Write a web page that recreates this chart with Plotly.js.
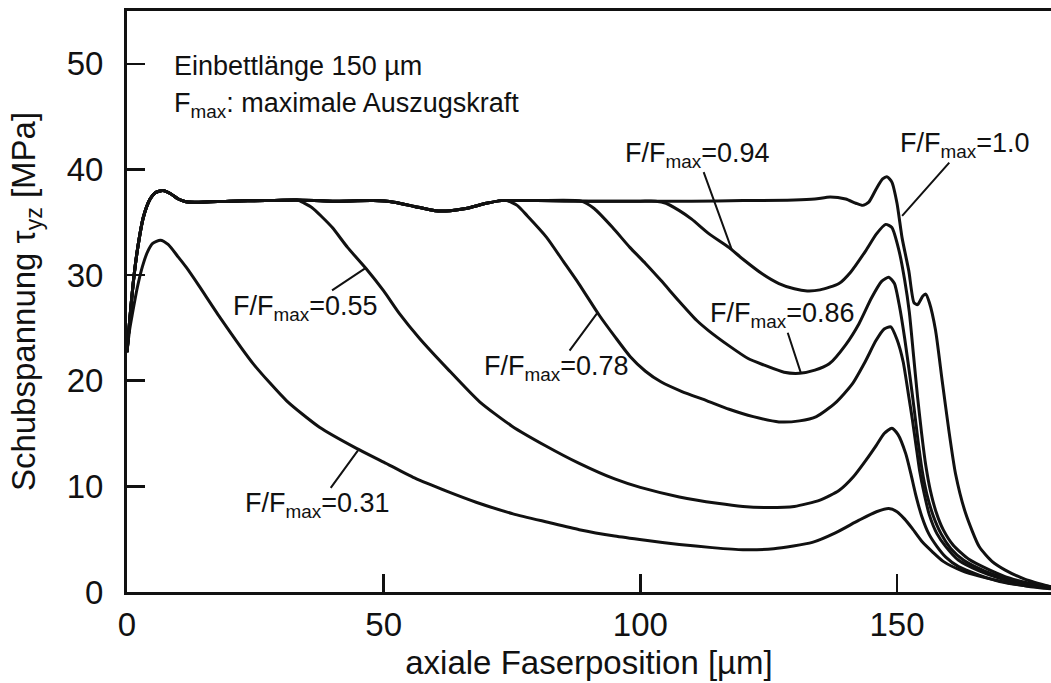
<!DOCTYPE html>
<html>
<head>
<meta charset="utf-8">
<script src="https://cdn.plot.ly/plotly-3.0.1.min.js"></script>
<style>html,body{margin:0;padding:0;background:#fff;}#chart{width:1051px;height:683px;}</style>
</head>
<body>
<div id="chart"></div>
<script>
// Common plateau / envelope (identical to the F/Fmax = 1.0 curve)
const envX = [0, 0.5, 1.2, 2, 3.2, 4.5, 5.5, 7, 8.5, 10, 11.5, 14, 20, 27, 33, 40, 48, 52, 56, 60, 63, 66, 70, 73, 80, 90, 100, 110, 120, 130, 134, 137, 140, 142, 143.3, 144.5, 146, 147.2, 148.1, 149, 150, 151, 152.3, 153.3, 154, 155, 155.6, 156.3, 157.5, 158.8, 160.1, 161.4, 163.4, 166, 168.5, 171, 175, 180];
const envY = [22.7, 25.6, 29.2, 32.3, 35.5, 37.2, 37.8, 38.0, 37.7, 37.2, 36.95, 36.9, 37.0, 37.05, 37.1, 37.0, 37.05, 36.9, 36.5, 36.1, 36.1, 36.3, 36.8, 37.05, 37.05, 37.0, 37.0, 37.0, 37.05, 37.1, 37.2, 37.4, 37.2, 36.8, 36.6, 36.9, 38.2, 39.1, 39.3, 38.8, 36.8, 33.5, 30.4, 27.4, 27.2, 28.0, 28.2, 27.4, 24.8, 20.0, 15.3, 11.2, 7.4, 4.3, 2.9, 2.1, 1.2, 0.5];

// Tails: where each curve leaves the plateau
const tail055X = [33.5, 36, 38, 40, 43, 46.6, 50, 53, 57, 62.5, 68.7, 75, 81.7, 88, 95, 100, 107.6, 115, 120, 125, 130, 135, 138.7, 141.5, 144, 146, 147.5, 149, 150.2, 151.7, 152.7, 153.6, 154.8, 156.2, 157.8, 159.5, 162, 166, 170, 175, 180];
const tail055Y = [37.05, 36.4, 35.5, 34.5, 32.6, 30.6, 28.5, 26.4, 24.0, 21.1, 18.0, 15.7, 13.8, 12.2, 10.7, 9.9, 9.0, 8.4, 8.1, 8.0, 8.1, 8.7, 9.6, 10.9, 12.5, 13.9, 15.0, 15.5, 14.9, 13.1, 11.2, 9.3, 7.2, 5.5, 4.3, 3.3, 2.4, 1.6, 1.0, 0.6, 0.4];

const tail078X = [74, 76, 78, 81.7, 85, 88, 92, 95, 98, 101, 104, 108, 113, 117.3, 122, 127, 131, 134.3, 138, 141.3, 143.8, 145.9, 147.5, 148.8, 150, 151.2, 152.2, 153, 153.7, 154.4, 155.3, 156.3, 157.8, 159.5, 162, 166, 170, 175, 180];
const tail078Y = [37.05, 36.6, 35.6, 33.6, 31.3, 29.2, 26.2, 24.2, 22.3, 20.9, 19.9, 19.0, 18.1, 17.3, 16.6, 16.1, 16.2, 16.6, 17.9, 19.7, 21.8, 23.8, 24.9, 25.1, 23.9, 21.8, 18.8, 16.3, 13.9, 11.5, 9.3, 7.3, 5.5, 4.3, 3.0, 2.0, 1.3, 0.7, 0.4];

const tail086X = [88.5, 91, 94.6, 98, 101, 104, 107.6, 111, 113.4, 117.3, 121, 124, 128, 131, 134, 136.8, 140, 142.6, 145, 147, 148.4, 149.5, 150.5, 151.5, 152.5, 153.3, 154.1, 154.9, 155.8, 157, 158.6, 160.5, 163, 167, 171, 175, 180];
const tail086Y = [37.0, 36.3, 34.5, 32.6, 31.1, 29.5, 27.5, 25.7, 24.7, 23.3, 22.1, 21.5, 20.8, 20.7, 21.0, 21.6, 23.4, 25.4, 27.8, 29.4, 29.8, 29.2, 27.0, 24.0, 20.5, 17.5, 14.3, 11.5, 9.3, 7.3, 5.5, 4.1, 3.0, 2.0, 1.3, 0.8, 0.4];

const tail094X = [103, 105, 107.6, 110, 113.4, 117.3, 120, 123.8, 127, 130, 132.5, 135, 138.7, 141, 143.9, 146, 147.8, 149, 150.4, 151.5, 152.4, 153.2, 154, 154.8, 155.6, 156.5, 157.6, 159, 161, 164, 168, 172, 176, 180];
const tail094Y = [37.0, 36.8, 36.1, 35.3, 33.9, 32.6, 31.5, 30.1, 29.2, 28.7, 28.5, 28.6, 29.2, 30.3, 32.3, 33.9, 34.8, 34.5, 32.3, 29.5, 26.5, 22.5, 18.5, 15.0, 12.0, 9.6, 7.6, 5.9, 4.4, 3.1, 2.1, 1.3, 0.8, 0.5];

// F/Fmax = 0.31 (never reaches the plateau)
const c031X = [0, 0.5, 1, 2, 3, 4, 5, 6.5, 8, 10, 11.6, 14, 18.1, 24.6, 31.1, 37.5, 44.7, 50, 56, 62.5, 68, 75.2, 82, 88.1, 95, 101, 107.6, 114, 120, 126, 133.5, 138, 142.6, 146, 148.4, 150, 151.5, 153, 155, 156.9, 159, 162.7, 166, 172.4, 176, 180];
const c031Y = [22.7, 24.8, 26.2, 28.8, 30.8, 32.2, 33.0, 33.3, 32.9, 31.7, 30.7, 29.0, 26.0, 21.6, 18.1, 15.6, 13.6, 12.3, 10.8, 9.5, 8.5, 7.4, 6.6, 5.9, 5.3, 4.9, 4.5, 4.2, 4.0, 4.1, 4.7, 5.6, 6.8, 7.6, 7.9, 7.6, 6.9, 6.0, 4.7, 3.8, 2.9, 2.0, 1.5, 0.8, 0.5, 0.3];

const ratioLabels = ['0.31', '0.55', '0.78', '0.86', '0.94', '1.0'];

function join(tx, ty) {
  const x = [], y = [];
  for (let i = 0; i < envX.length; i++) {
    if (envX[i] < tx[0]) { x.push(envX[i]); y.push(envY[i]); }
  }
  return {x: x.concat(tx), y: y.concat(ty)};
}

const curves = [
  {x: c031X, y: c031Y},
  join(tail055X, tail055Y),
  join(tail078X, tail078Y),
  join(tail086X, tail086Y),
  join(tail094X, tail094Y),
  {x: envX, y: envY}
];

const traces = curves.map((c, i) => ({
  type: 'scatter', mode: 'lines', x: c.x, y: c.y,
  name: 'F/Fmax=' + ratioLabels[i],
  line: {color: '#111', width: 3, shape: 'spline', smoothing: 0.6},
  hoverinfo: 'x+y+name', showlegend: false
}));

const annFont = {family: 'Liberation Sans, Arial, sans-serif', size: 27, color: '#111'};
// label centre (ax, ay) and the curve point it points at (x, y)
const labelPos = [
  {t: '0.31', ax: 37.2, ay: 8.2, x: 45.0, y: 13.4},
  {t: '0.55', ax: 34.8, ay: 26.9, x: 46.6, y: 30.7},
  {t: '0.78', ax: 83.7, ay: 21.2, x: 91.6, y: 26.4},
  {t: '0.86', ax: 127.6, ay: 26.2, x: 131.3, y: 20.7},
  {t: '0.94', ax: 111.1, ay: 41.4, x: 117.9, y: 32.3},
  {t: '1.0', ax: 163.2, ay: 42.3, x: 151.0, y: 35.6}
];

const annotations = labelPos.map(p => ({
  xref: 'x', yref: 'y', axref: 'x', ayref: 'y',
  x: p.x, y: p.y, ax: p.ax, ay: p.ay,
  text: 'F/F<sub>max</sub>=' + p.t,
  showarrow: true, arrowhead: 0, arrowwidth: 2, arrowcolor: '#111', standoff: 0,
  font: annFont, borderpad: 0
}));

annotations.push({
  xref: 'x', yref: 'y', x: 8.75, y: 49.8, xanchor: 'left', yanchor: 'middle',
  text: 'Einbettlänge 150 µm', showarrow: false, font: annFont
});
annotations.push({
  xref: 'x', yref: 'y', x: 8.75, y: 46.1, xanchor: 'left', yanchor: 'middle',
  text: 'F<sub>max</sub>: maximale Auszugskraft', showarrow: false, font: annFont
});

const tickFont = {family: 'Liberation Sans Narrow, Arial Narrow, sans-serif', size: 33, color: '#111'};
const titleFont = {family: 'Liberation Sans, Arial, sans-serif', size: 33, color: '#111'};

const layout = {
  width: 1051, height: 683,
  margin: {l: 127, r: 0, t: 11, b: 91},
  paper_bgcolor: '#fff', plot_bgcolor: '#fff',
  showlegend: false,
  xaxis: {
    range: [0, 180], tickvals: [0, 50, 100, 150], ticktext: ['0', '50', '100', '150'],
    ticks: 'inside', ticklen: 18, tickwidth: 2.5, tickcolor: '#111',
    showline: true, linewidth: 3, linecolor: '#111', mirror: true,
    showgrid: false, zeroline: false, tickfont: tickFont, ticklabelstandoff: 1,
    title: {text: 'axiale Faserposition [µm]', font: titleFont, standoff: 10}
  },
  yaxis: {
    range: [0, 55], tickvals: [0, 10, 20, 30, 40, 50],
    ticks: 'inside', ticklen: 18, tickwidth: 2.5, tickcolor: '#111',
    showline: true, linewidth: 3, linecolor: '#111', mirror: false,
    showgrid: false, zeroline: false, tickfont: tickFont, ticklabelstandoff: 14,
    title: {text: 'Schubspannung τ<sub>yz</sub> [MPa]', font: titleFont, standoff: 22}
  },
  annotations: annotations
};

Plotly.newPlot('chart', traces, layout, {displayModeBar: false, staticPlot: true});
</script>
</body>
</html>
